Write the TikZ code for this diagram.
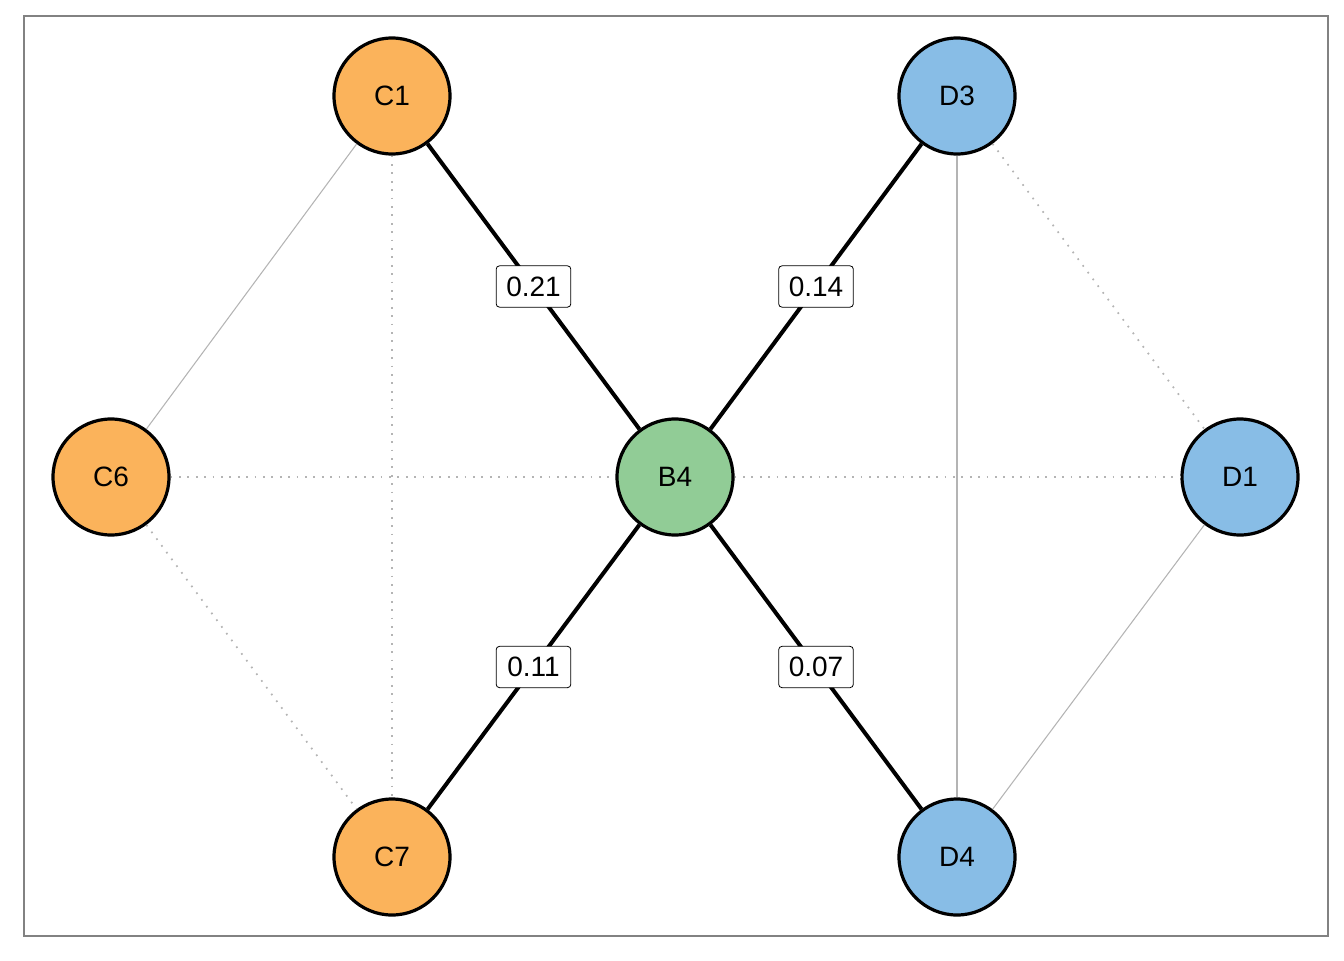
\documentclass[tikz,border=0pt]{standalone}
\usepackage{fontspec}
\setmainfont{Liberation Sans}
\begin{document}
\begin{tikzpicture}[x=0.75pt,y=-0.75pt,
  vert/.style={circle,draw=black,line width=2.4pt,minimum size=87pt,inner sep=0pt,font=\fontsize{21}{24}\selectfont},
  orangev/.style={vert,fill=orangefill},
  greenv/.style={vert,fill=greenfill},
  bluev/.style={vert,fill=bluefill},
  strong/.style={line width=3pt,black},
  weak/.style={line width=0.8pt,edgegray},
  weakdot/.style={line width=1.3pt,edgegray,dash pattern=on 1.3pt off 5pt},
  lbl/.style={draw=black,line width=0.6pt,fill=white,rounded corners=2.5pt,minimum width=56pt,minimum height=31pt,inner sep=0pt,font=\fontsize{21}{24}\selectfont}]
\definecolor{orangefill}{RGB}{251,179,91}
\definecolor{greenfill}{RGB}{145,204,150}
\definecolor{bluefill}{RGB}{136,189,230}
\definecolor{edgegray}{RGB}{180,180,180}
\definecolor{framegray}{RGB}{130,130,130}
\useasboundingbox (0,0) rectangle (1344,960);
\draw[framegray,line width=1.5pt] (24,16) rectangle (1328,936);
\node[orangev] (C1) at (392,96) {C1};
\node[bluev] (D3) at (957,96) {D3};
\node[orangev] (C6) at (111,477) {C6};
\node[greenv] (B4) at (675,477) {B4};
\node[bluev] (D1) at (1240,477) {D1};
\node[orangev] (C7) at (392,857) {C7};
\node[bluev] (D4) at (957,857) {D4};
\draw[weak] (C1) -- (C6);
\draw[weakdot] (C1) -- (C7);
\draw[weakdot] (C6) -- (B4);
\draw[weakdot] (B4) -- (D1);
\draw[weakdot] (C6) -- (C7);
\draw[weak,line width=1.1pt] (D3) -- (D4);
\draw[weakdot] (D3) -- (D1);
\draw[weak] (D1) -- (D4);
\draw[strong] (C1) -- node[lbl]{0.21} (B4);
\draw[strong] (D3) -- node[lbl]{0.14} (B4);
\draw[strong] (C7) -- node[lbl]{0.11} (B4);
\draw[strong] (D4) -- node[lbl]{0.07} (B4);
\end{tikzpicture}
\end{document}
